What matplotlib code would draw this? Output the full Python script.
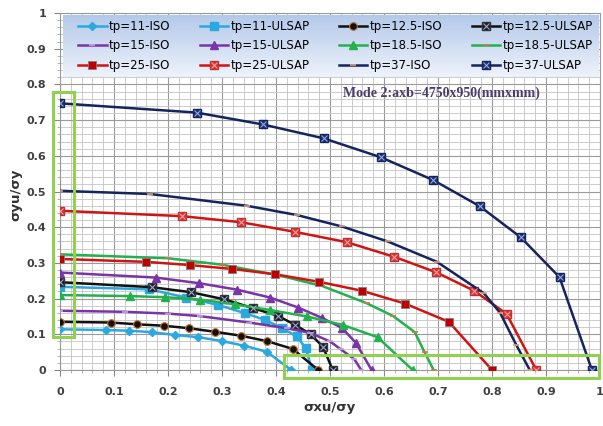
import numpy as np
import matplotlib.pyplot as plt
from matplotlib.patches import Rectangle
from matplotlib.ticker import MultipleLocator
from matplotlib.legend_handler import HandlerTuple
from matplotlib.colors import LinearSegmentedColormap

# series: (sigma_xu/sigma_y, sigma_yu/sigma_y)
tp11_iso_x = [0, 0.086, 0.128, 0.17, 0.213, 0.256, 0.30, 0.341, 0.383, 0.428]
tp11_iso_y = [0.114, 0.112, 0.11, 0.106, 0.098, 0.092, 0.081, 0.068, 0.051, 0.0]
tp11_ulsap_x = [0, 0.165, 0.234, 0.293, 0.343, 0.38, 0.412, 0.438, 0.455, 0.467]
tp11_ulsap_y = [0.233, 0.226, 0.203, 0.182, 0.159, 0.14, 0.117, 0.094, 0.062, 0.0]
tp125_iso_x = [0, 0.094, 0.143, 0.192, 0.239, 0.287, 0.335, 0.383, 0.431, 0.478]
tp125_iso_y = [0.135, 0.133, 0.128, 0.124, 0.117, 0.107, 0.096, 0.081, 0.059, 0.0]
tp125_ulsap_x = [0, 0.17, 0.242, 0.304, 0.358, 0.403, 0.436, 0.464, 0.487, 0.505]
tp125_ulsap_y = [0.246, 0.232, 0.218, 0.198, 0.173, 0.152, 0.126, 0.10, 0.065, 0.0]
tp15_iso_x = [0, 0.12, 0.2, 0.259, 0.35, 0.42, 0.463, 0.50, 0.52, 0.545, 0.558]
tp15_iso_y = [0.166, 0.163, 0.158, 0.151, 0.133, 0.117, 0.104, 0.08, 0.058, 0.03, 0.0]
tp15_ulsap_x = [0, 0.177, 0.258, 0.328, 0.389, 0.441, 0.485, 0.522, 0.548, 0.577]
tp15_ulsap_y = [0.273, 0.259, 0.243, 0.225, 0.203, 0.175, 0.146, 0.118, 0.076, 0.0]
tp185_iso_x = [0, 0.129, 0.195, 0.26, 0.324, 0.389, 0.457, 0.524, 0.588, 0.653]
tp185_iso_y = [0.21, 0.207, 0.204, 0.197, 0.184, 0.168, 0.15, 0.126, 0.092, 0.0]
tp185_ulsap_x = [0, 0.2, 0.3, 0.403, 0.486, 0.568, 0.617, 0.657, 0.675, 0.692]
tp185_ulsap_y = [0.324, 0.313, 0.295, 0.266, 0.235, 0.187, 0.151, 0.106, 0.05, 0.0]
tp25_iso_x = [0, 0.159, 0.24, 0.319, 0.399, 0.48, 0.559, 0.639, 0.72, 0.80]
tp25_iso_y = [0.311, 0.303, 0.294, 0.283, 0.268, 0.247, 0.222, 0.186, 0.135, 0.0]
tp25_ulsap_x = [0, 0.226, 0.335, 0.435, 0.531, 0.619, 0.696, 0.767, 0.827, 0.882]
tp25_ulsap_y = [0.446, 0.431, 0.414, 0.387, 0.358, 0.317, 0.274, 0.222, 0.157, 0.0]
tp37_iso_x = [0, 0.167, 0.346, 0.439, 0.522, 0.607, 0.698, 0.785, 0.815, 0.845, 0.87]
tp37_iso_y = [0.502, 0.493, 0.46, 0.434, 0.402, 0.36, 0.303, 0.215, 0.16, 0.07, 0.0]
tp37_ulsap_x = [0, 0.253, 0.375, 0.488, 0.594, 0.691, 0.777, 0.853, 0.925, 0.985]
tp37_ulsap_y = [0.747, 0.721, 0.688, 0.649, 0.596, 0.532, 0.459, 0.372, 0.26, 0.0]

labels = ["tp=11-ISO", "tp=11-ULSAP", "tp=12.5-ISO", "tp=12.5-ULSAP",
          "tp=15-ISO", "tp=15-ULSAP", "tp=18.5-ISO", "tp=18.5-ULSAP",
          "tp=25-ISO", "tp=25-ULSAP", "tp=37-ISO", "tp=37-ULSAP"]
tick_labels = ['0', '0.1', '0.2', '0.3', '0.4', '0.5', '0.6', '0.7', '0.8', '0.9', '1']

c11 = '#2aa8e0'
c125 = '#111111'
c15 = '#7a33a8'
c185 = '#22b14c'
c25 = '#d01414'
c37 = '#16245e'

fig = plt.figure(figsize=(6.03, 4.26), dpi=100)
ax = fig.add_axes([60 / 603, 1 - 370 / 426, 540 / 603, 357 / 426])

lw = 1.8
handles = []
h = ax.plot(tp11_iso_x, tp11_iso_y, color=c11, lw=lw, marker='D', ms=4.5, zorder=3)[0]
handles.append(h)
h = ax.plot(tp11_ulsap_x, tp11_ulsap_y, color=c11, lw=lw, marker='s', ms=5.5, zorder=3)[0]
handles.append(h)
h = ax.plot(tp125_iso_x, tp125_iso_y, color=c125, lw=lw, marker='o', ms=5.5,
            mfc='#111111', mec='#c07030', mew=0.8, zorder=3)[0]
handles.append(h)
a = ax.plot(tp125_ulsap_x, tp125_ulsap_y, color=c125, lw=lw, marker='s', ms=6,
            mfc='#1a1a30', mec='#333333', zorder=3)[0]
b = ax.plot(tp125_ulsap_x, tp125_ulsap_y, ls='none', marker='x', ms=4.5,
            mec='#9aa8c8', mew=0.8, zorder=4)[0]
handles.append((a, b))
h = ax.plot(tp15_iso_x, tp15_iso_y, color=c15, lw=lw, marker='_', ms=4,
            mec='#c8a8e0', mew=1.2, zorder=3)[0]
handles.append(h)
h = ax.plot(tp15_ulsap_x, tp15_ulsap_y, color=c15, lw=lw, marker='^', ms=5.5, zorder=3)[0]
handles.append(h)
h = ax.plot(tp185_iso_x, tp185_iso_y, color=c185, lw=lw, marker='^', ms=6, zorder=3)[0]
handles.append(h)
h = ax.plot(tp185_ulsap_x, tp185_ulsap_y, color=c185, lw=lw, marker='_', ms=4,
            mec='#d07850', mew=1.2, zorder=3)[0]
handles.append(h)
h = ax.plot(tp25_iso_x, tp25_iso_y, color=c25, lw=lw, marker='s', ms=6,
            mfc='#c00000', mec='#808080', mew=0.6, zorder=3)[0]
handles.append(h)
a = ax.plot(tp25_ulsap_x, tp25_ulsap_y, color=c25, lw=lw, marker='s', ms=6,
            mfc='#e03030', mec='#c03030', zorder=3)[0]
b = ax.plot(tp25_ulsap_x, tp25_ulsap_y, ls='none', marker='x', ms=4.5,
            mec='#f0a0a0', mew=0.8, zorder=4)[0]
handles.append((a, b))
h = ax.plot(tp37_iso_x, tp37_iso_y, color=c37, lw=lw, marker='_', ms=4,
            mec='#e0a070', mew=1.2, zorder=3)[0]
handles.append(h)
a = ax.plot(tp37_ulsap_x, tp37_ulsap_y, color=c37, lw=lw, marker='s', ms=6,
            mfc='#1c3070', mec='#16245e', zorder=3)[0]
b = ax.plot(tp37_ulsap_x, tp37_ulsap_y, ls='none', marker='x', ms=4.5,
            mec='#8fa8d8', mew=0.8, zorder=4)[0]
handles.append((a, b))

ax.set_xticks(np.arange(0, 1.01, 0.1))
ax.set_xticklabels(tick_labels)
ax.set_yticks(np.arange(0, 1.01, 0.1))
ax.set_yticklabels(tick_labels)
ax.xaxis.set_minor_locator(MultipleLocator(0.02))
ax.yaxis.set_minor_locator(MultipleLocator(0.02))
ax.grid(which='major', color='#9a9a9a', lw=0.8)
ax.grid(which='minor', color='#c4c4c4', lw=0.6)
ax.set_axisbelow(True)
ax.tick_params(which='major', length=4, color='#888888', labelsize=8,
               labelcolor='#404040')
ax.tick_params(axis='x', which='major', pad=8)
ax.tick_params(axis='y', which='major', pad=6)
ax.tick_params(which='minor', length=2, color='#aaaaaa')
for t in ax.get_xticklabels() + ax.get_yticklabels():
    t.set_fontweight('bold')
for s in ax.spines.values():
    s.set_color('#9a9a9a')
    s.set_linewidth(0.8)

# legend box with light blue gradient
grad = np.linspace(0, 1, 64).reshape(-1, 1)
ax.imshow(grad, extent=(0.005, 0.996, 0.822, 0.994), transform=ax.transAxes,
          cmap=LinearSegmentedColormap.from_list('lg', ['#eef3fb', '#b4c9ea']),
          origin='lower', aspect='auto', zorder=5)
ax.set_xlim(0, 1)
ax.set_ylim(0, 1)

order = [r * 4 + c for c in range(4) for r in range(3)]
leg = ax.legend([handles[i] for i in order], [labels[i] for i in order],
                ncol=4, mode='expand', loc='lower left',
                bbox_to_anchor=(0.025, 0.822, 0.97, 0.172),
                frameon=False, fontsize=8.5, handlelength=2.4,
                handletextpad=0.2, labelspacing=0.55, borderaxespad=0.0,
                handler_map={tuple: HandlerTuple(ndivide=1)})
leg.set_zorder(6)

ax.text(0.524, 0.776, 'Mode 2:axb=4750x950(mmxmm)', transform=ax.transAxes,
        family='Liberation Serif', fontweight='bold', fontsize=10,
        color='#4a3d6e', va='center', ha='left', zorder=6)

# green highlight boxes
ax.add_patch(Rectangle((-0.013, 0.092), 0.039, 0.686, fill=False,
                       ec='#92d050', lw=2.2, clip_on=False, zorder=7))
ax.add_patch(Rectangle((0.415, -0.022), 0.583, 0.064, fill=False,
                       ec='#92d050', lw=2.2, clip_on=False, zorder=7))

fig.text(16 / 603, 1 - 195 / 426, 'σyu/σy', rotation=90, ha='center', va='center',
         fontsize=9.5, fontweight='bold', color='#333333')
fig.text(330 / 603, 1 - 408 / 426, 'σxu/σy', ha='center', va='center',
         fontsize=9.5, fontweight='bold', color='#333333')

fig.savefig('out.png', dpi=100)
